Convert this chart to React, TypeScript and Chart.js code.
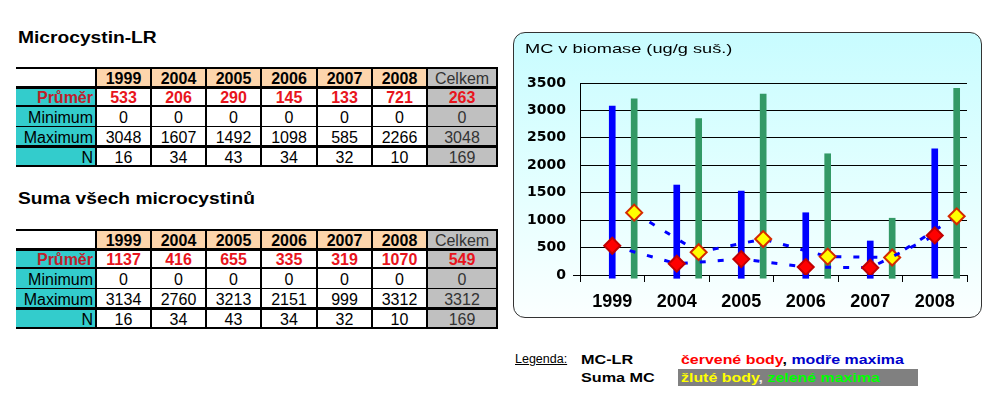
import React, { useEffect, useRef } from 'react';
import { Chart, registerables } from 'chart.js';

Chart.register(...registerables);

// ---------- data ----------
const years = ['1999', '2004', '2005', '2006', '2007', '2008'];
const totalLabel = 'Celkem';
const rowLabels = ['Průměr', 'Minimum', 'Maximum', 'N'];

const lrMean = [533, 206, 290, 145, 133, 721];
const lrMin = [0, 0, 0, 0, 0, 0];
const lrMax = [3048, 1607, 1492, 1098, 585, 2266];
const lrN = [16, 34, 43, 34, 32, 10];
const lrTotal = [263, 0, 3048, 169];

const sumMean = [1137, 416, 655, 335, 319, 1070];
const sumMin = [0, 0, 0, 0, 0, 0];
const sumMax = [3134, 2760, 3213, 2151, 999, 3312];
const sumN = [16, 34, 43, 34, 32, 10];
const sumTotal = [549, 0, 3312, 169];

// values
const chartLrMaxBars = [3080, 1640, 1530, 1135, 620, 2300];
const chartSumMaxBars = [3210, 2850, 3300, 2210, 1035, 3405];
const chartLrMeanPoints = [533, 206, 290, 145, 133, 721];
const chartSumMeanPoints = [1137, 416, 655, 335, 319, 1070];
const yMin = 0;
const yMax = 3500;
const yStep = 500;

// ---------- styling constants ----------
const ARIAL = "'Liberation Sans', Arial, sans-serif";
const LR_POS = 0.5; // position inside a category
const SUM_POS = 0.84;

const colX = [16, 96, 151, 206, 261, 317, 372, 427, 497];
const rowOff = [0, 19, 38, 58, 78, 98];
const hLineW = [2, 3, 2, 1, 3, 2];

type TxtProps = {
  x: number; y: number; size: number; bold?: boolean; color?: string;
  w?: number; align?: 'left' | 'center' | 'right'; scale?: number;
  underline?: boolean; children?: React.ReactNode;
};

function Txt({ x, y, size, bold, color = '#000', w, align = 'left', scale = 1, underline, children }: TxtProps) {
  return (
    <div
      style={{
        position: 'absolute',
        left: x,
        top: y - 0.8465 * size,
        width: w,
        fontFamily: ARIAL,
        fontSize: size,
        lineHeight: `${size}px`,
        fontWeight: bold ? 'bold' : 'normal',
        color,
        textAlign: align,
        whiteSpace: 'nowrap',
        textDecoration: underline ? 'underline' : 'none',
        transform: scale !== 1 ? `scaleX(${scale})` : undefined,
        transformOrigin: 'left top',
      }}
    >
      {children}
    </div>
  );
}

function StatTable({ top, means, mins, maxs, ns, totals }: {
  top: number; means: number[]; mins: number[]; maxs: number[]; ns: number[]; totals: number[];
}) {
  const rows = [means, mins, maxs, ns];
  const rb = rowOff.map((v) => top + v);
  const els: React.ReactNode[] = [];
  for (let r = 0; r < 5; r++) {
    for (let c = 0; c < 8; c++) {
      let bg = '#fff';
      if (r === 0) bg = c === 0 ? '#fff' : c === 7 ? '#c0c0c0' : '#fdd5ac';
      else bg = c === 0 ? '#33cccc' : c === 7 ? '#c0c0c0' : '#fff';
      els.push(
        <div key={`bg${r}-${c}`} style={{ position: 'absolute', left: colX[c], top: rb[r], width: colX[c + 1] - colX[c], height: rb[r + 1] - rb[r], background: bg }} />
      );
      const base = rb[r + 1] - 2.5;
      const cx = colX[c];
      const cw = colX[c + 1] - colX[c];
      if (r === 0) {
        if (c >= 1 && c <= 6) els.push(<Txt key={`t${r}-${c}`} x={cx} w={cw} y={base} size={16} bold align="center">{years[c - 1]}</Txt>);
        if (c === 7) els.push(<Txt key={`t${r}-${c}`} x={cx} w={cw} y={base} size={16} align="center" color="#333">{totalLabel}</Txt>);
      } else {
        const isMean = r === 1;
        if (c === 0) {
          els.push(<Txt key={`t${r}-${c}`} x={cx} w={cw - 3} y={base} size={16} bold={isMean} align="right" color={isMean ? '#c0202a' : '#000'}>{rowLabels[r - 1]}</Txt>);
        } else if (c <= 6) {
          els.push(<Txt key={`t${r}-${c}`} x={cx} w={cw} y={base} size={16} bold={isMean} align="center" color={isMean ? '#e8141c' : '#000'}>{rows[r - 1][c - 1]}</Txt>);
        } else {
          els.push(<Txt key={`t${r}-${c}`} x={cx} w={cw} y={base} size={16} bold={isMean} align="center" color={isMean ? '#e8141c' : '#333'}>{totals[r - 1]}</Txt>);
        }
      }
    }
  }
  rb.forEach((y, i) => {
    const t = hLineW[i];
    els.push(<div key={`h${i}`} style={{ position: 'absolute', left: colX[0], top: y - Math.floor(t / 2), width: colX[8] - colX[0] + 1, height: t, background: '#000' }} />);
  });
  for (let c = 1; c <= 8; c++) {
    els.push(<div key={`v${c}`} style={{ position: 'absolute', left: colX[c] - 1, top: rb[0], width: 2, height: rb[5] - rb[0] + 1, background: '#000' }} />);
  }
  return <>{els}</>;
}

function MCChart() {
  const ref = useRef<HTMLCanvasElement | null>(null);
  useEffect(() => {
    const canvas = ref.current;
    if (!canvas) return;
    const chart = new Chart(canvas, {
      type: 'bar',
      data: {
        labels: years,
        datasets: [
          {
            type: 'line',
            label: 'MC-LR průměr',
            xAxisID: 'xv',
            data: chartLrMeanPoints.map((y, i) => ({ x: i + LR_POS, y })),
            borderColor: '#0000ff',
            borderWidth: 3,
            borderDash: [6, 12],
            tension: 0,
            fill: false,
            pointStyle: 'rectRot',
            pointRadius: 8,
            pointHoverRadius: 8,
            pointBackgroundColor: '#ff0000',
            pointBorderColor: '#c00000',
            pointBorderWidth: 2,
            order: 0,
          } as any,
          {
            type: 'line',
            label: 'Suma MC průměr',
            xAxisID: 'xv',
            data: chartSumMeanPoints.map((y, i) => ({ x: i + SUM_POS, y })),
            borderColor: '#0000ff',
            borderWidth: 3,
            borderDash: [6, 12],
            tension: 0,
            fill: false,
            pointStyle: 'rectRot',
            pointRadius: 8,
            pointHoverRadius: 8,
            pointBackgroundColor: '#ffff00',
            pointBorderColor: '#d42a00',
            pointBorderWidth: 2,
            order: 1,
          } as any,
          {
            type: 'bar',
            label: 'MC-LR maximum',
            xAxisID: 'xv',
            data: chartLrMaxBars.map((y, i) => ({ x: i + LR_POS, y })),
            backgroundColor: '#0000ff',
            barThickness: 6,
            grouped: false,
            base: -60,
            clip: false,
            order: 2,
          } as any,
          {
            type: 'bar',
            label: 'Suma MC maximum',
            xAxisID: 'xv',
            data: chartSumMaxBars.map((y, i) => ({ x: i + SUM_POS, y })),
            backgroundColor: '#339966',
            barThickness: 6,
            grouped: false,
            base: -60,
            clip: false,
            order: 3,
          } as any,
        ],
      },
      options: {
        responsive: false,
        animation: false,
        devicePixelRatio: 1,
        layout: { padding: { top: 51, right: 15, left: 0, bottom: 0 } },
        plugins: { legend: { display: false }, tooltip: { enabled: false }, title: { display: false } },
        scales: {
          x: {
            type: 'category',
            offset: true,
            grid: { offset: true, drawOnChartArea: false, color: '#000', tickLength: 7, lineWidth: 1 },
            border: { color: '#000', width: 1 },
            ticks: { color: '#000', font: { family: ARIAL, size: 18, weight: 'bold' }, padding: 9, maxRotation: 0, autoSkip: false },
            afterFit: (s: any) => { s.height = 43; },
          },
          xv: {
            type: 'linear',
            axis: 'x',
            display: false,
            offset: false,
            grid: { offset: false },
            min: 0,
            max: years.length,
          },
          y: {
            type: 'linear',
            min: yMin,
            max: yMax,
            ticks: {
              stepSize: yStep,
              color: '#000',
              font: { family: "'DejaVu Sans'", size: 14, weight: 'bold' },
              padding: 7,
              callback: (v: any) => String(v),
            },
            grid: {
              color: '#000',
              lineWidth: 1,
              tickLength: 7,
              tickColor: (c: any) => (c.tick && c.tick.value === 0 ? '#000' : 'rgba(0,0,0,0)'),
            },
            border: { color: '#000', width: 1 },
            afterFit: (s: any) => { s.width = 67; },
          },
        } as any,
      },
    } as any);
    return () => chart.destroy();
  }, []);
  return <canvas ref={ref} width={469} height={286} style={{ position: 'absolute', left: 513, top: 32 }} />;
}

export default function App() {
  return (
    <div style={{ position: 'absolute', left: 0, top: 0, width: 1000, height: 400, background: '#fff', overflow: 'hidden', fontFamily: ARIAL }}>
      <Txt x={18} y={44} size={16} bold scale={1.2}>Microcystin-LR</Txt>
      <StatTable top={68} means={lrMean} mins={lrMin} maxs={lrMax} ns={lrN} totals={lrTotal} />
      <Txt x={18} y={205} size={16} bold scale={1.2}>Suma všech microcystinů</Txt>
      <StatTable top={230} means={sumMean} mins={sumMin} maxs={sumMax} ns={sumN} totals={sumTotal} />

      <div style={{
        position: 'absolute', left: 513, top: 32, width: 469, height: 286, boxSizing: 'border-box',
        border: '1px solid #333', borderRadius: 12,
        background: 'linear-gradient(to bottom, #c8fcff 0%, #e4ffff 55%, #fbffff 100%)',
      }} />
      <MCChart />
      <Txt x={525} y={52.7} size={13} scale={1.4}>MC v biomase (ug/g suš.)</Txt>

      <Txt x={515} y={364} size={12.5} underline>Legenda:</Txt>
      <Txt x={581} y={364} size={13.5} bold scale={1.2}>MC-LR</Txt>
      <Txt x={581} y={382} size={13.5} bold scale={1.2}>Suma MC</Txt>
      <div style={{ position: 'absolute', left: 678, top: 369, width: 240, height: 17, background: '#808080' }} />
      <Txt x={681} y={364} size={13.5} bold scale={1.18}>
        <span style={{ color: '#ff0000' }}>červené body</span>
        <span style={{ color: '#000' }}>, </span>
        <span style={{ color: '#0000cc' }}>modře maxima</span>
      </Txt>
      <Txt x={681} y={382} size={13.5} bold scale={1.18}>
        <span style={{ color: '#ffff00' }}>žluté body</span>
        <span style={{ color: '#e8e8e8' }}>, </span>
        <span style={{ color: '#00ff00' }}>zelené maxima</span>
      </Txt>
    </div>
  );
}
